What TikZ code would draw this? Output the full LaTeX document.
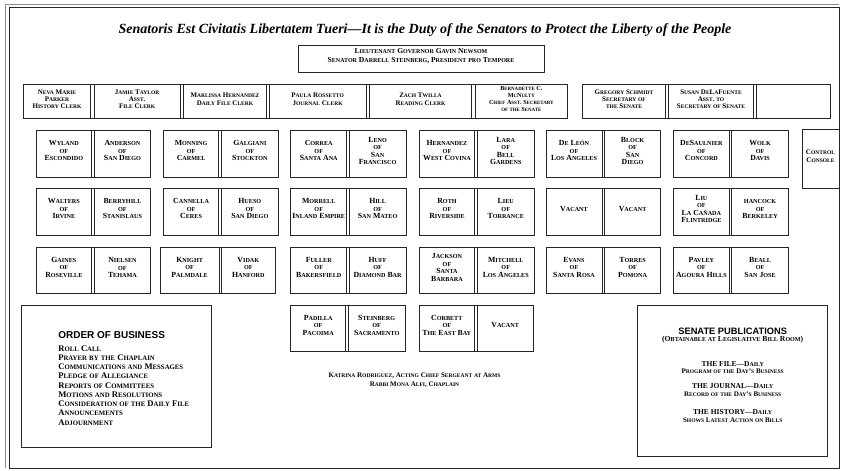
\documentclass[tikz,border=0pt]{standalone}
\usepackage{fontspec}
\setmainfont{Liberation Serif}
\setsansfont{Liberation Sans}
\usetikzlibrary{fit}
\makeatletter
\newcommand\fscsmall{\fontsize{\strip@pt\dimexpr\f@size pt*79/100\relax}{\f@baselineskip}\selectfont}
\makeatother
\ExplSyntaxOn
\tl_new:N \l__fsc_tl
\seq_new:N \l__fsc_seq
\cs_new_protected:Npn \__fsc_char:n #1
  {
    \str_if_eq:nnTF {#1} { ~ }
      { \c_space_tl }
      {
        \str_if_eq:eeTF {#1} { \text_uppercase:n {#1} }
          { #1 }
          { { \fscsmall \text_uppercase:n {#1} } }
      }
  }
\cs_new_protected:Npn \fsc #1
  { \exp_args:Ne \str_map_function:nN {#1} \__fsc_char:n }
\cs_new_protected:Npn \F #1
  {
    \seq_set_split:Nnn \l__fsc_seq { / } {#1}
    \tl_clear:N \l__fsc_tl
    \seq_map_inline:Nn \l__fsc_seq
      {
        \tl_if_empty:NF \l__fsc_tl { \tl_put_right:Nn \l__fsc_tl { \\ } }
        \tl_put_right:Nn \l__fsc_tl { \fsc {##1} }
      }
    \tl_use:N \l__fsc_tl
  }
\ExplSyntaxOff
\newcommand\seatfont{\fontsize{7}{7.3}\selectfont\bfseries}
\newcommand\pairfont{\fontsize{7.8}{7.5}\selectfont\bfseries}
\newcommand\pairseat[9]{%
  \node[seat, font=\pairfont, fit={(#2,#6) (#3,#7)}] (#1a) {\F{#8}};
  \node[seat, font=\pairfont, fit={(#4,#6) (#5,#7)}] (#1b) {\F{#9}};
  \draw[boxline] (#1a.north east) -- (#1b.north west) (#1a.south east) -- (#1b.south west);
}
\tikzset{
  boxline/.style={draw=black!85, line width=0.9pt},
  seat/.style={boxline, inner sep=0pt, outer sep=0pt, align=center, font=\seatfont},
  bigbox/.style={boxline, inner sep=0pt, outer sep=0pt},
  txt/.style={inner sep=0pt, outer sep=0pt, align=center, font=\seatfont},
  heading/.style={inner sep=0pt, outer sep=0pt, font=\sffamily\bfseries\fontsize{10}{12}\selectfont},
  obitem/.style={inner sep=0pt, outer sep=0pt, anchor=west, font=\fontsize{8.6}{9}\selectfont\bfseries},
}
\begin{document}
\begin{tikzpicture}[x=1pt, y=-1pt]
\useasboundingbox (0,0) rectangle (841,471);
% frame
\draw[black!45, line width=1pt] (5,468) -- (5,4) -- (839,4);
\draw[black!85, line width=1pt] (9.5,7.5) rectangle (839,468);
% title
\node[inner sep=0pt, font=\fontsize{14}{16}\selectfont\bfseries\itshape] (title) at (425,30)
  {Senatoris Est Civitatis Libertatem Tueri—It is the Duty of the Senators to Protect the Liberty of the People};
% presiding
\node[seat, fit={(298,45) (544,72)}, font=\fontsize{7.6}{8.3}\selectfont\bfseries] (ltgov)
  {\F{Lieutenant Governor Gavin Newsom/Senator Darrell Steinberg, President pro Tempore}};
% clerks
\node[seat, fit={(23.3,84.3) (90.7,118.7)}] (c1) {\F{Neva Marie/Parker/History Clerk}};
\node[seat, fit={(94.3,84.3) (180,118.7)}] (c2) {\F{Jamie Taylor/Asst./File Clerk}};
\node[seat, fit={(183.3,84.3) (266.7,118.7)}] (c3) {\F{Marlissa Hernandez/Daily File Clerk}};
\node[seat, fit={(269.3,84.3) (366,118.7)}] (c4) {\F{Paula Rossetto/Journal Clerk}};
\node[seat, fit={(369.3,84.3) (471.7,118.7)}] (c5) {\F{Zach Twilla/Reading Clerk}};
\node[seat, fit={(475,84.3) (567.7,118.7)}, font=\fontsize{6.2}{7}\selectfont\bfseries] (c6) {\F{Bernadette C./McNulty/Chief Asst. Secretary/of the Senate}};
\node[seat, fit={(582.3,84.3) (665.7,118.7)}] (c7) {\F{Gregory Schmidt/Secretary of/the Senate}};
\node[seat, fit={(668.7,84.3) (753.3,118.7)}] (c8) {\F{Susan DeLaFuente/Asst. to/Secretary of Senate}};
\node[seat, fit={(756,84.3) (830.7,118.7)}] (c9) {};
\foreach \a/\b in {c1/c2,c2/c3,c3/c4,c4/c5,c5/c6,c7/c8,c8/c9}
  \draw[boxline] (\a.north east) -- (\b.north west) (\a.south east) -- (\b.south west);
% row 1
\pairseat{s11}{36}{91.7}{94.2}{150.7}{130}{177}{Wyland/of/Escondido}{Anderson/of/San Diego}
\pairseat{s12}{163.3}{218.9}{221.4}{278.3}{130}{177}{Monning/of/Carmel}{Galgiani/of/Stockton}
\pairseat{s13}{290.7}{346.8}{349.2}{406}{130}{177}{Correa/of/Santa Ana}{Leno/of/San/Francisco}
\pairseat{s14}{419.5}{474.5}{477.2}{534.3}{130}{177}{Hernandez/of/West Covina}{Lara/of/Bell/Gardens}
\pairseat{s15}{546}{602}{604.5}{660.7}{130}{177}{De León/of/Los Angeles}{Block/of/San/Diego}
\pairseat{s16}{673.5}{729.3}{731.8}{788.3}{130}{177}{DeSaulnier/of/Concord}{Wolk/of/Davis}
% row 2
\pairseat{s21}{36}{91.7}{94.2}{150.7}{188}{235}{Walters/of/Irvine}{Berryhill/of/Stanislaus}
\pairseat{s22}{163.3}{218.9}{221.4}{278.3}{188}{235}{Cannella/of/Ceres}{Hueso/of/San Diego}
\pairseat{s23}{290.7}{346.8}{349.2}{406}{188}{235}{Morrell/of/Inland Empire}{Hill/of/San Mateo}
\pairseat{s24}{419.5}{474.5}{477.2}{534.3}{188}{235}{Roth/of/Riverside}{Lieu/of/Torrance}
\pairseat{s25}{546}{602}{604.5}{660.7}{188}{235}{Vacant}{Vacant}
\pairseat{s26}{673.5}{729.3}{731.8}{788.3}{188}{235}{Liu/of/La Cañada/Flintridge}{hancock/of/Berkeley}
% row 3
\pairseat{s31}{36}{91.7}{94.2}{150.7}{247}{293}{Gaines/of/Roseville}{Nielsen/of/Tehama}
\pairseat{s32}{160}{219.2}{221.7}{275}{247}{293}{Knight/of/Palmdale}{Vidak/of/Hanford}
\pairseat{s33}{290.7}{346.8}{349.2}{406}{247}{293}{Fuller/of/Bakersfield}{Huff/of/Diamond Bar}
\pairseat{s34}{419.5}{474.5}{477.2}{534.3}{247}{293}{Jackson/of/Santa/Barbara}{Mitchell/of/Los Angeles}
\pairseat{s35}{546}{602}{604.5}{660.7}{247}{293}{Evans/of/Santa Rosa}{Torres/of/Pomona}
\pairseat{s36}{673.5}{729.3}{731.8}{788.3}{247}{293}{Pavley/of/Agoura Hills}{Beall/of/San Jose}
% row 4
\pairseat{s43}{290.7}{345.6}{348.3}{405}{305}{351}{Padilla/of/Pacoima}{Steinberg/of/Sacramento}
\pairseat{s44}{419.3}{474.3}{477}{533.3}{305}{351}{Corbett/of/The East Bay}{Vacant}
% control console
\node[seat, fit={(802,129) (839,188)}] (console) {\F{Control/Console}};
% sergeant and chaplain
\node[txt, font=\fontsize{7}{9}\selectfont\bfseries] (staff) at (414.5,380.5)
  {\F{Katrina Rodriguez, Acting Chief Sergeant at Arms/Rabbi Mona Alfi, Chaplain}};
% order of business
\node[bigbox, fit={(21.7,305) (211.7,447)}] (obbox) {};
\node[heading, anchor=west] (obhead) at (58.3,335) {ORDER OF BUSINESS};
\foreach \t [count=\i, evaluate=\i as \yy using 348.3+9.25*(\i-1)] in
  {Roll Call,Prayer by the Chaplain,Communications and Messages,Pledge of Allegiance,Reports of Committees,Motions and Resolutions,Consideration of the Daily File,Announcements,Adjournment}
  \node[obitem] (ob\i) at (58.3,\yy) {\fsc{\t}};
% senate publications
\node[bigbox, fit={(637.7,305) (827.7,456)}] (spbox) {};
\node[heading, font=\sffamily\bfseries\fontsize{9.3}{11}\selectfont] (sphead) at (732.7,331) {SENATE PUBLICATIONS};
\node[txt, font=\fontsize{7.7}{9}\selectfont\bfseries] (spsub) at (732.7,339.5) {\fsc{(Obtainable at Legislative Bill Room)}};
\node[txt, font=\fontsize{7.5}{9}\selectfont\bfseries] (file1) at (732.7,364) {\fsc{THE FILE—Daily}};
\node[txt] (file2) at (732.7,371.5) {\fsc{Program of the Day's Business}};
\node[txt, font=\fontsize{7.5}{9}\selectfont\bfseries] (jour1) at (732.7,385.7) {\fsc{THE JOURNAL—Daily}};
\node[txt] (jour2) at (732.7,393.7) {\fsc{Record of the Day's Business}};
\node[txt, font=\fontsize{7.5}{9}\selectfont\bfseries] (hist1) at (732.7,412.3) {\fsc{THE HISTORY—Daily}};
\node[txt] (hist2) at (732.7,420.7) {\fsc{Shows Latest Action on Bills}};
\end{tikzpicture}
\end{document}
